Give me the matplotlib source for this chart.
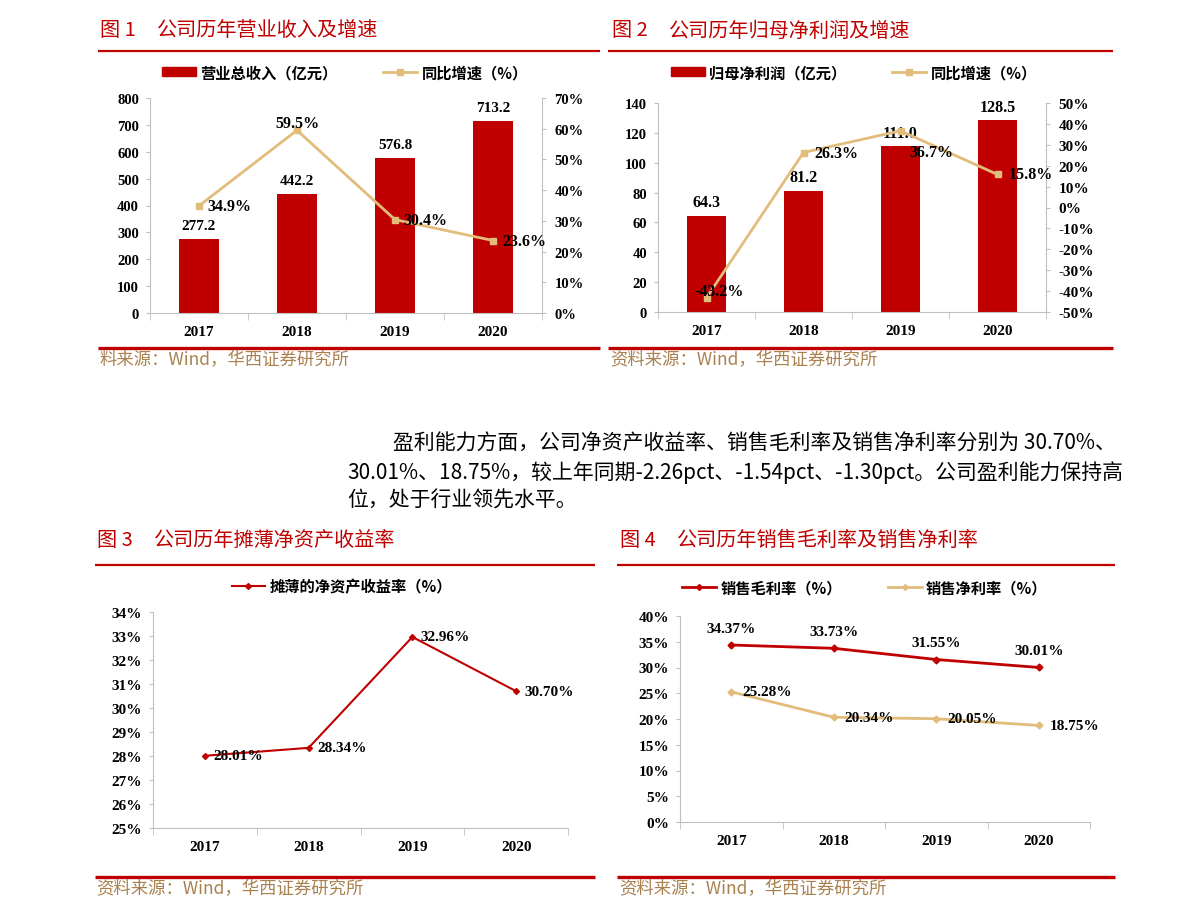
import matplotlib
matplotlib.use("Agg")
import matplotlib.pyplot as plt
from matplotlib.lines import Line2D
from matplotlib.patches import Patch

plt.rcParams['font.family'] = ['Noto Sans CJK SC', 'DejaVu Sans']

years = ['2017', '2018', '2019', '2020']
revenue = [277.2, 442.2, 576.8, 713.2]          # 亿元
revenue_growth = [34.9, 59.5, 30.4, 23.6]       # %
profit = [64.3, 81.2, 111.0, 128.5]             # 亿元
profit_growth = [-43.2, 26.3, 36.7, 15.8]       # %
roe = [28.01, 28.34, 32.96, 30.70]              # %
gross_margin = [34.37, 33.73, 31.55, 30.01]     # %
net_margin = [25.28, 20.34, 20.05, 18.75]       # %

RED = '#C00000'
TAN = '#E2BC7A'
GREY = '#BFBFBF'
SRC = '#A8814F'
W, H = 1191, 920

fig = plt.figure(figsize=(W / 100, H / 100), dpi=100)


def fx(px):
    return px / W


def fy(py):
    return 1 - py / H


def hline(x0, x1, y, lw):
    fig.add_artist(Line2D([fx(x0), fx(x1)], [fy(y), fy(y)], transform=fig.transFigure,
                          color=RED, lw=lw, solid_capstyle='butt'))


def add_axes(left, right, top, bottom):
    return fig.add_axes([fx(left), fy(bottom), fx(right) - fx(left), fy(top) - fy(bottom)])


num = dict(fontfamily='Liberation Serif', fontweight='bold')
x = list(range(len(years)))


def style_x(ax):
    ax.set_xlim(-0.5, 3.5)
    ax.set_xticks(x, years, fontsize=11, **num)
    ax.set_xticks([-0.5, 0.5, 1.5, 2.5, 3.5], minor=True)
    ax.tick_params(axis='x', which='major', length=0, pad=9)
    ax.tick_params(axis='x', which='minor', length=5, color=GREY)
    ax.spines['top'].set_visible(False)
    ax.spines['right'].set_visible(False)
    ax.spines['left'].set_color(GREY)
    ax.spines['bottom'].set_color(GREY)
    ax.tick_params(axis='y', length=3, color=GREY, pad=5)


def pct_labels(ticks):
    return ['%d%%' % t for t in ticks]


def title(px, py, no, text):
    fig.text(fx(px), fy(py), no, color=RED, fontsize=14.5, va='center')
    fig.text(fx(px + 57), fy(py), text, color=RED, fontsize=14.5, va='center')


# ---------- page text ----------
title(100, 31, '图 1', '公司历年营业收入及增速')
title(612, 31, '图 2', '公司历年归母净利润及增速')
title(97, 540, '图 3', '公司历年摊薄净资产收益率')
title(620, 540, '图 4', '公司历年销售毛利率及销售净利率')
hline(98, 600, 52, 1.6)
hline(608, 1113, 52, 1.6)
hline(95, 595, 566, 1.6)
hline(617, 1115, 566, 1.6)
hline(98, 600, 349, 2.4)
hline(608, 1113, 349, 2.4)
hline(95, 595, 878, 2.4)
hline(617, 1115, 878, 2.4)
fig.text(fx(100), fy(360), '料来源：Wind，华西证券研究所', color=SRC, fontsize=12.5, va='center')
fig.text(fx(610), fy(360), '资料来源：Wind，华西证券研究所', color=SRC, fontsize=12.5, va='center')
fig.text(fx(96), fy(889), '资料来源：Wind，华西证券研究所', color=SRC, fontsize=12.5, va='center')
fig.text(fx(619), fy(889), '资料来源：Wind，华西证券研究所', color=SRC, fontsize=12.5, va='center')

fig.text(fx(393), fy(444), '盈利能力方面，公司净资产收益率、销售毛利率及销售净利率分别为 30.70%、',
         fontsize=15, va='center')
fig.text(fx(347), fy(473), '30.01%、18.75%，较上年同期-2.26pct、-1.54pct、-1.30pct。公司盈利能力保持高',
         fontsize=15, va='center')
fig.text(fx(347), fy(501), '位，处于行业领先水平。', fontsize=15, va='center')

# ---------- 图1 ----------
ax1 = add_axes(150, 542, 99, 314)
ax1.bar(x, revenue, width=0.4, color=RED, zorder=2)
ax1.set_ylim(0, 800)
ax1.set_yticks(range(0, 801, 100), [str(v) for v in range(0, 801, 100)], fontsize=10.5, **num)
style_x(ax1)
for i, v in enumerate(revenue):
    ax1.annotate('%.1f' % v, (i, v), xytext=(0, 5), textcoords='offset points',
                 ha='center', va='bottom', fontsize=11, **num)
ax1b = ax1.twinx()
ax1b.plot(x, revenue_growth, color=TAN, lw=2, marker='s', ms=5)
ax1b.set_ylim(0, 70)
ax1b.set_yticks(range(0, 71, 10), pct_labels(range(0, 71, 10)), fontsize=10.5, **num)
for s in ['top', 'left', 'bottom']:
    ax1b.spines[s].set_visible(False)
ax1b.spines['right'].set_color(GREY)
ax1b.tick_params(axis='y', length=3, color=GREY, pad=6)
offs1 = [(6, 0, 'left'), (0, 5, 'center'), (6, 0, 'left'), (7, 0, 'left')]
for i, v in enumerate(revenue_growth):
    dx, dy, ha = offs1[i]
    ax1b.annotate('%.1f%%' % v, (i, v), xytext=(dx, dy), textcoords='offset points',
                  ha=ha, va='center', fontsize=11.5, **num)
fig.legend(handles=[Patch(color=RED, label='营业总收入（亿元）'),
                    Line2D([], [], color=TAN, lw=2, marker='s', ms=4, label='同比增速（%）')],
           loc='center', bbox_to_anchor=(fx(345), fy(73)), ncol=2, frameon=False,
           prop=dict(size=11, weight='bold'), columnspacing=3, handlelength=2.2,
           handleheight=0.6, handletextpad=0.3)

# ---------- 图2 ----------
ax2 = add_axes(658, 1046, 104, 313)
ax2.bar(x, profit, width=0.4, color=RED, zorder=2)
ax2.set_ylim(0, 140)
ax2.set_yticks(range(0, 141, 20), [str(v) for v in range(0, 141, 20)], fontsize=10.5, **num)
style_x(ax2)
for i, v in enumerate(profit):
    ax2.annotate('%.1f' % v, (i, v), xytext=(0, 4), textcoords='offset points',
                 ha='center', va='bottom', fontsize=11.5, **num)
ax2b = ax2.twinx()
ax2b.plot(x, profit_growth, color=TAN, lw=2, marker='s', ms=5)
ax2b.set_ylim(-50, 50)
ax2b.set_yticks(range(-50, 51, 10), pct_labels(range(-50, 51, 10)), fontsize=11, **num)
for s in ['top', 'left', 'bottom']:
    ax2b.spines[s].set_visible(False)
ax2b.spines['right'].set_color(GREY)
ax2b.tick_params(axis='y', length=3, color=GREY, pad=6)
offs2 = [(9, 5, 'center'), (8, 0, 'left'), (22, -15, 'center'), (8, 0, 'left')]
for i, v in enumerate(profit_growth):
    dx, dy, ha = offs2[i]
    ax2b.annotate('%.1f%%' % v, (i, v), xytext=(dx, dy), textcoords='offset points',
                  ha=ha, va='center', fontsize=11.5, **num)
fig.legend(handles=[Patch(color=RED, label='归母净利润（亿元）'),
                    Line2D([], [], color=TAN, lw=2, marker='s', ms=4, label='同比增速（%）')],
           loc='center', bbox_to_anchor=(fx(854), fy(73)), ncol=2, frameon=False,
           prop=dict(size=11, weight='bold'), columnspacing=3, handlelength=2.2,
           handleheight=0.6, handletextpad=0.3)

# ---------- 图3 ----------
ax3 = add_axes(153, 568, 613, 829)
ax3.plot(x, roe, color=RED, lw=1.5, marker='D', ms=3)
ax3.set_ylim(25, 34)
ax3.set_yticks(range(25, 35), pct_labels(range(25, 35)), fontsize=11, **num)
style_x(ax3)
for i, v in enumerate(roe):
    ax3.annotate('%.2f%%' % v, (i, v), xytext=(6, 0), textcoords='offset points',
                 ha='left', va='center', fontsize=11, **num)
fig.legend(handles=[Line2D([], [], color=RED, lw=1.5, marker='D', ms=3, label='摊薄的净资产收益率（%）')],
           loc='center', bbox_to_anchor=(fx(342), fy(587)), frameon=False,
           prop=dict(size=11, weight='bold'), handlelength=2.2, handletextpad=0.3)

# ---------- 图4 ----------
ax4 = add_axes(680, 1090, 617, 823)
ax4.plot(x, gross_margin, color=RED, lw=2, marker='D', ms=3.5)
ax4.plot(x, net_margin, color=TAN, lw=2, marker='D', ms=3.5)
ax4.set_ylim(0, 40)
ax4.set_yticks(range(0, 41, 5), pct_labels(range(0, 41, 5)), fontsize=11, **num)
style_x(ax4)
for i, v in enumerate(gross_margin):
    ax4.annotate('%.2f%%' % v, (i, v), xytext=(0, 12), textcoords='offset points',
                 ha='center', va='center', fontsize=11, **num)
for i, v in enumerate(net_margin):
    ax4.annotate('%.2f%%' % v, (i, v), xytext=(8, 0), textcoords='offset points',
                 ha='left', va='center', fontsize=11, **num)
fig.legend(handles=[Line2D([], [], color=RED, lw=2, marker='D', ms=3, label='销售毛利率（%）'),
                    Line2D([], [], color=TAN, lw=2, marker='D', ms=3, label='销售净利率（%）')],
           loc='center', bbox_to_anchor=(fx(865), fy(588)), ncol=2, frameon=False,
           prop=dict(size=11, weight='bold'), columnspacing=3, handlelength=2.2,
           handletextpad=0.3)

fig.savefig('out.png', dpi=100)
